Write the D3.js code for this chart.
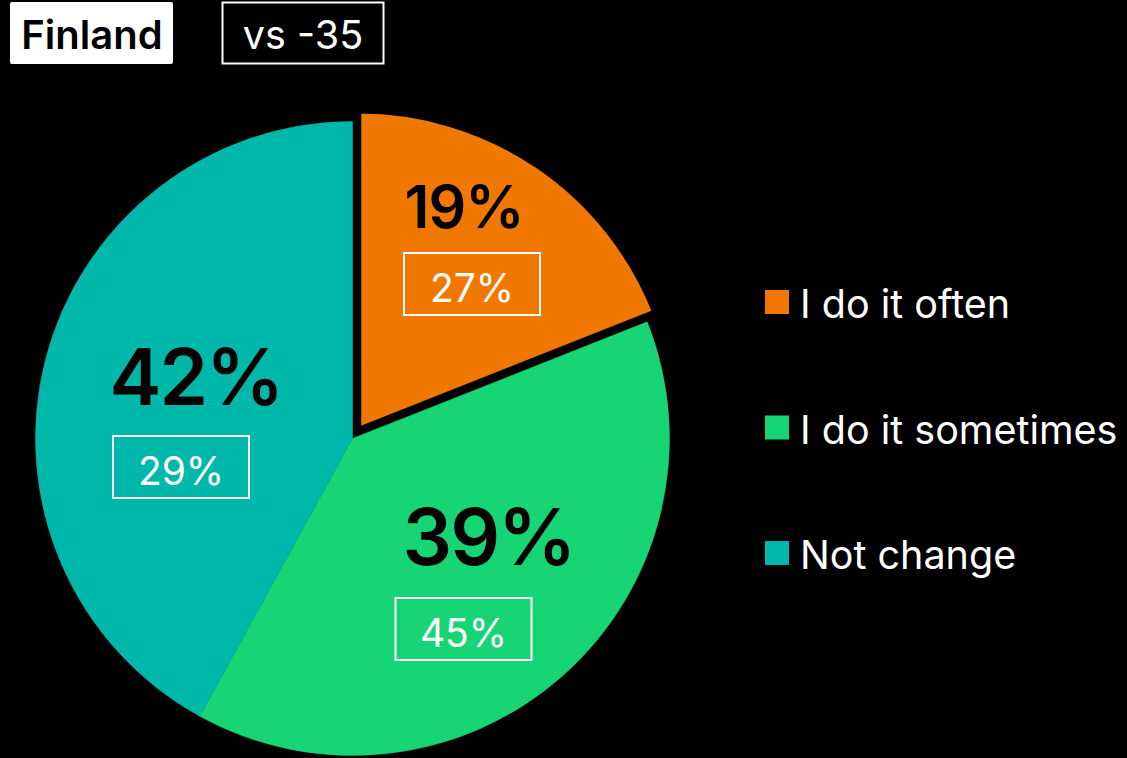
<!DOCTYPE html>
<html>
<head>
<meta charset="utf-8">
<script src="https://cdn.jsdelivr.net/npm/d3@7"></script>
<style>
  html, body { margin: 0; padding: 0; background: #000; }
  svg { display: block; }
  text { font-family: Inter, "Noto Sans", sans-serif; }
</style>
</head>
<body>
<svg id="chart" width="1127" height="758"></svg>
<script>
// ---- data ----
const title = "Finland";
const compareLabel = "vs -35";
const categories = ["I do it often", "I do it sometimes", "Not change"];
const values = [19, 39, 42];              // current share, %
const previousValues = [27, 45, 29];      // comparison share, %
const colors = ["#F07800", "#17D574", "#00B8AA"];

// ---- layout ----
const W = 1127, H = 758;
const cx = 352.5, cy = 438.5, R = 317;
const explodeIndex = 0, explodeDist = 12;

const svg = d3.select("#chart");
svg.append("rect").attr("width", W).attr("height", H).attr("fill", "#000");

const pie = d3.pie().sort(null).value(d => d)(values);
const arc = d3.arc().innerRadius(0).outerRadius(R);

const g = svg.append("g").attr("transform", `translate(${cx},${cy})`);

function explodeOffset(d, dist) {
  const a = (d.startAngle + d.endAngle) / 2;
  return [Math.sin(a) * dist, -Math.cos(a) * dist];
}

const order = d3.range(pie.length).sort((a, b) => (a === explodeIndex) - (b === explodeIndex));
order.forEach(i => {
  const d = pie[i];
  const off = i === explodeIndex ? explodeOffset(d, explodeDist) : [0, 0];
  g.append("path")
    .attr("d", arc(d))
    .attr("transform", `translate(${off[0]},${off[1]})`)
    .attr("fill", colors[i])
    .attr("stroke", i === explodeIndex ? "#000" : colors[i])
    .attr("stroke-width", i === explodeIndex ? 4 : 0.5)
    .attr("stroke-linejoin", "miter");
});

// label layout relative to pie centre: big label anchor (centre, baseline) and box (centre x, top)
const bigPos = [[111.5, -210.5], [136, 126.5], [-156.5, -33.5]];
const boxPos = [[119.5, -185.5], [111, 159.5], [-171.5, -2.5]];
const bigSize = [59, 78, 78];
const bigSpacing = [-1, -2, -2];
const boxW = 136, boxH = 62;

pie.forEach((d, i) => {
  g.append("text")
    .attr("x", bigPos[i][0]).attr("y", bigPos[i][1])
    .attr("text-anchor", "middle")
    .attr("font-size", bigSize[i])
    .attr("font-weight", 600)
    .attr("letter-spacing", bigSpacing[i])
    .attr("fill", "#000")
    .text(values[i] + "%");
  const bx = boxPos[i][0], by = boxPos[i][1];
  g.append("rect")
    .attr("x", bx - boxW / 2).attr("y", by)
    .attr("width", boxW).attr("height", boxH)
    .attr("fill", "none")
    .attr("stroke", "#fff")
    .attr("stroke-width", 2);
  g.append("text")
    .attr("x", bx).attr("y", by + 49)
    .attr("text-anchor", "middle")
    .attr("font-size", 39)
    .attr("font-weight", 400)
    .attr("fill", "#fff")
    .text(previousValues[i] + "%");
});

// header boxes
svg.append("rect").attr("x", 10).attr("y", 2).attr("width", 163).attr("height", 62)
  .attr("rx", 2).attr("fill", "#fff");
svg.append("text").attr("x", 92).attr("y", 49).attr("text-anchor", "middle")
  .attr("font-size", 40).attr("font-weight", 600).attr("fill", "#000").text(title);
svg.append("rect").attr("x", 222.5).attr("y", 2.5).attr("width", 161).attr("height", 61)
  .attr("fill", "#000").attr("stroke", "#fff").attr("stroke-width", 2);
svg.append("text").attr("x", 303).attr("y", 49).attr("text-anchor", "middle")
  .attr("font-size", 39.5).attr("font-weight", 400).attr("fill", "#fff").text(compareLabel);

// legend
const legend = svg.append("g").attr("transform", "translate(765,290)");
const ly = d3.scalePoint().domain(categories).range([0, 251]);
categories.forEach((c, i) => {
  legend.append("rect").attr("x", 0).attr("y", ly(c)).attr("width", 24).attr("height", 24)
    .attr("fill", colors[i]);
  legend.append("text").attr("x", 35).attr("y", ly(c) + 28)
    .attr("font-size", 39.5).attr("fill", "#fff").text(c);
});
</script>
</body>
</html>
